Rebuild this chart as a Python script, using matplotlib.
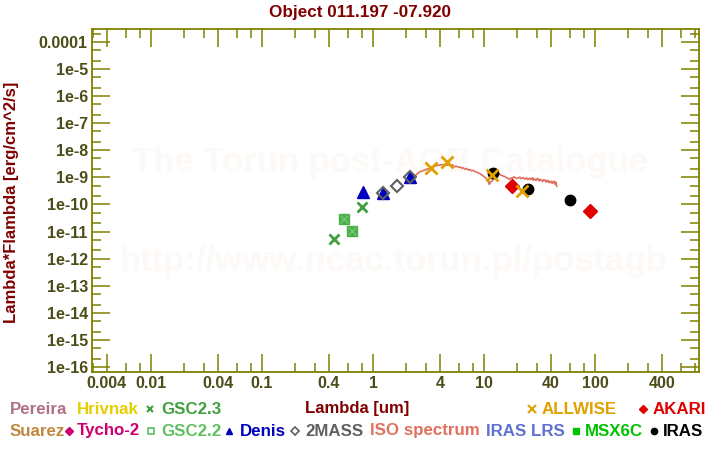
import matplotlib
matplotlib.use("Agg")
import matplotlib.pyplot as plt
from matplotlib.lines import Line2D
from matplotlib.ticker import NullFormatter

plt.rcParams['font.family'] = ['Liberation Sans', 'DejaVu Sans']
plt.rcParams['font.weight'] = 'bold'

# --- datos (lambda en um, lambda*F_lambda en erg/cm^2/s) ---
gsc23_wave = [0.448, 0.80]
gsc23_flux = [5.3e-12, 7.9e-11]
gsc22_wave = [0.551, 0.651]
gsc22_flux = [2.84e-11, 1.02e-11]
denis_wave = [0.81, 1.24, 2.17]
denis_flux = [2.8e-10, 2.59e-10, 1.06e-9]
mass2_wave = [1.24, 1.65, 2.17]
mass2_flux = [2.59e-10, 4.69e-10, 1.06e-9]
allwise_wave = [3.33, 4.67, 11.7, 22.1]
allwise_flux = [2.17e-9, 3.8e-9, 1.23e-9, 3.2e-10]
iras_wave = [12.1, 25.1, 59.9]
iras_flux = [1.49e-9, 3.63e-10, 1.43e-10]
akari_wave = [18.0, 90.8]
akari_flux = [4.8e-10, 5.6e-11]

# espectro ISO (con el ruido aproximado)
iso_wave = [2.39, 2.5, 2.65, 2.8, 2.94, 3.1, 3.26, 3.45, 3.62, 3.9, 4.16, 4.3,
            4.45, 4.6, 4.77, 4.9, 5.1, 5.2, 5.3, 5.48, 5.6, 5.9, 6.1, 6.30,
            6.5, 6.75, 7.0, 7.22, 7.5, 7.7, 8.0, 8.30, 8.6, 8.9, 9.2, 9.53,
            9.8, 10.1, 10.4, 10.6, 10.8, 11.0, 11.15, 11.3, 11.45, 11.6, 11.9,
            12.2, 12.6, 12.9, 13.2, 13.5, 13.9, 14.3, 14.7, 15.1, 15.5, 15.9,
            16.3, 16.7, 17.1, 17.5, 18.0, 18.5, 19.0, 19.6, 20.4, 21.0, 21.5,
            21.9, 22.5, 23.0, 23.5, 24.2, 24.6, 25.1, 25.8, 26.3, 26.9, 27.4,
            27.8, 28.3, 28.8, 29.5, 30.2, 30.9, 31.4, 31.8, 32.4, 33.1, 33.7,
            34.5, 35.4, 36.0, 36.5, 37.2, 37.9, 38.6, 39.4, 40.5, 41.2, 42.0,
            42.6, 43.0, 43.6, 44.2, 44.7, 45.2]
iso_flux = [1.13e-9, 1.35e-9, 1.62e-9, 1.75e-9, 1.87e-9, 2.05e-9, 2.22e-9,
            2.45e-9, 2.64e-9, 2.80e-9, 2.94e-9, 2.90e-9, 2.98e-9, 2.80e-9,
            2.87e-9, 3.05e-9, 2.70e-9, 2.95e-9, 2.55e-9, 2.48e-9, 2.62e-9,
            2.35e-9, 2.45e-9, 2.17e-9, 2.28e-9, 2.00e-9, 2.12e-9, 1.87e-9,
            1.95e-9, 1.75e-9, 1.84e-9, 1.62e-9, 1.58e-9, 1.45e-9, 1.38e-9,
            1.23e-9, 1.16e-9, 1.02e-9, 0.95e-9, 0.85e-9, 0.80e-9, 0.72e-9,
            0.55e-9, 0.605e-9, 0.68e-9, 0.70e-9, 0.755e-9, 1.05e-9, 1.34e-9,
            1.22e-9, 1.22e-9, 1.36e-9, 1.30e-9, 1.18e-9, 1.15e-9, 1.10e-9,
            1.06e-9, 0.98e-9, 0.95e-9, 0.88e-9, 0.85e-9, 0.96e-9, 0.92e-9,
            1.04e-9, 1.01e-9, 0.92e-9, 0.95e-9, 1.02e-9, 0.90e-9, 0.93e-9,
            0.99e-9, 0.88e-9, 0.88e-9, 0.96e-9, 0.84e-9, 0.85e-9, 0.94e-9,
            0.82e-9, 0.90e-9, 0.97e-9, 0.78e-9, 0.88e-9, 0.86e-9, 0.76e-9,
            0.92e-9, 0.84e-9, 0.74e-9, 0.86e-9, 0.78e-9, 0.80e-9, 0.70e-9,
            0.82e-9, 0.80e-9, 0.68e-9, 0.70e-9, 0.78e-9, 0.66e-9, 0.74e-9,
            0.64e-9, 0.72e-9, 0.60e-9, 0.68e-9, 0.72e-9, 0.63e-9, 0.56e-9,
            0.68e-9, 0.60e-9, 0.47e-9]

x_major = [0.004, 0.01, 0.04, 0.1, 0.4, 1, 4, 10, 40, 100, 400]
x_labels = ['0.004', '0.01', '0.04', '0.1', '0.4', '1', '4', '10', '40', '100', '400']
x_minor = [0.003, 0.006, 0.008, 0.02, 0.03, 0.06, 0.08, 0.2, 0.3, 0.6, 0.8,
           2, 3, 6, 8, 20, 30, 60, 80, 200, 300, 600, 800]
y_major = [1e-4, 1e-5, 1e-6, 1e-7, 1e-8, 1e-9, 1e-10, 1e-11, 1e-12, 1e-13,
           1e-14, 1e-15, 1e-16]
y_labels = ['0.0001', '1e-5', '1e-6', '1e-7', '1e-8', '1e-9', '1e-10', '1e-11',
            '1e-12', '1e-13', '1e-14', '1e-15', '1e-16']
y_minor = [m * 10.0 ** e for e in range(-17, -3) for m in (2, 5)]

olive = '#808000'
darkred = '#800000'

fig = plt.figure(figsize=(7.2, 4.5), dpi=100)
ax = fig.add_axes([92 / 720, 1 - 372 / 450, 607 / 720, 343 / 450])
ax.set_xscale('log')
ax.set_yscale('log')

# marca de agua
wm = '#fcf9f6'
ax.text(0.491, 0.612, 'The Torun post-AGB Catalogue', transform=ax.transAxes,
        fontsize=25, color=wm, ha='center', va='center', zorder=0)
ax.text(0.496, 0.321, 'http://www.ncac.torun.pl/postagb', transform=ax.transAxes,
        fontsize=25, color=wm, ha='center', va='center', zorder=0)

ax.plot(iso_wave, iso_flux, color='#e07060', lw=1.2, zorder=2)
ax.plot(gsc22_wave, gsc22_flux, 's', ms=7, mfc='#4caf4c', mec='#4caf4c', zorder=3)
ax.plot(gsc22_wave, gsc22_flux, 'x', ms=6, mew=1, color='#70c870', zorder=3)
ax.plot(gsc23_wave, gsc23_flux, 'x', ms=7, mew=2, color='#40a040', zorder=3)
ax.plot(denis_wave, denis_flux, '^', ms=8, color='#0000c0', zorder=3)
ax.plot(mass2_wave, mass2_flux, 'D', ms=6, mfc='none', mec='#606060', mew=1.5, zorder=4)
ax.plot(iras_wave, iras_flux, 'o', ms=7.5, color='black', zorder=3)
ax.plot(akari_wave, akari_flux, 'D', ms=7.5, color='#e00000', zorder=3)
ax.plot(allwise_wave, allwise_flux, 'x', ms=8, mew=2, color='#e0a000', zorder=4)

ax.set_xticks(x_major, labels=x_labels)
ax.set_xticks(x_minor, minor=True)
ax.set_yticks(y_major, labels=y_labels)
ax.set_yticks(y_minor, minor=True)
ax.xaxis.set_minor_formatter(NullFormatter())
ax.yaxis.set_minor_formatter(NullFormatter())
ax.set_xlim(0.00294, 865)
ax.set_ylim(6.5e-17, 3.02e-4)

ax.tick_params(which='both', direction='in', top=True, right=True, color=olive,
               labelcolor='#4d4d1a', labelsize=11.5, pad=3)
ax.tick_params(which='major', length=13, width=1.1)
ax.tick_params(which='minor', length=6.5, width=1.1)
for s in ax.spines.values():
    s.set_color(olive)
    s.set_linewidth(1.3)

fig.text(360 / 720, 1 - 12 / 450, 'Object 011.197 -07.920', ha='center', va='center',
         fontsize=12.3, color=darkred)
fig.text(12 / 720, 1 - 202 / 450, 'Lambda*Flambda [erg/cm^2/s]', ha='center',
         va='center', rotation=90, fontsize=12, color=darkred)
fig.text(357 / 720, 1 - 409 / 450, 'Lambda [um]', ha='center', va='center',
         fontsize=12, color=darkred)

# leyenda de catálogos
def etiqueta(x, y, texto, color, marcador=None, mx=None, **kw):
    fy = 1 - y / 450
    fig.text(x / 720, fy, texto, ha='left', va='center', fontsize=12.2, color=color)
    if marcador:
        fig.add_artist(Line2D([mx / 720], [fy], marker=marcador, color=color,
                              transform=fig.transFigure, **kw))

r1, r2 = 409, 431
etiqueta(10, r1, 'Pereira', '#b07088')
etiqueta(77, r1, 'Hrivnak', '#e6cf00')
etiqueta(161, r1, 'GSC2.3', '#40a040', 'x', 150, ms=5, mew=1.5)
etiqueta(542, r1, 'ALLWISE', '#e0a000', 'x', 532, ms=6, mew=1.5)
etiqueta(653, r1, 'AKARI', '#e00000', 'D', 643, ms=4.5)
etiqueta(10, r2, 'Suarez', '#c08840')
etiqueta(77, r2, 'Tycho-2', '#d00070', 'D', 69, ms=4.5)
etiqueta(161, r2, 'GSC2.2', '#60c060', 's', 150.5, ms=4, mfc='none', mew=1.2)
etiqueta(240, r2, 'Denis', '#0000c0', '^', 228.5, ms=5)
etiqueta(305, r2, '2MASS', '#606060', 'D', 295, ms=4.5, mfc='none', mew=1.2)
etiqueta(370, r2, 'ISO spectrum', '#e07060')
etiqueta(486, r2, 'IRAS LRS', '#6070d0')
etiqueta(585, r2, 'MSX6C', '#00c000', 's', 575.5, ms=4.5)
etiqueta(663, r2, 'IRAS', 'black', 'o', 654, ms=4.5)

fig.savefig('out.png', dpi=100)
